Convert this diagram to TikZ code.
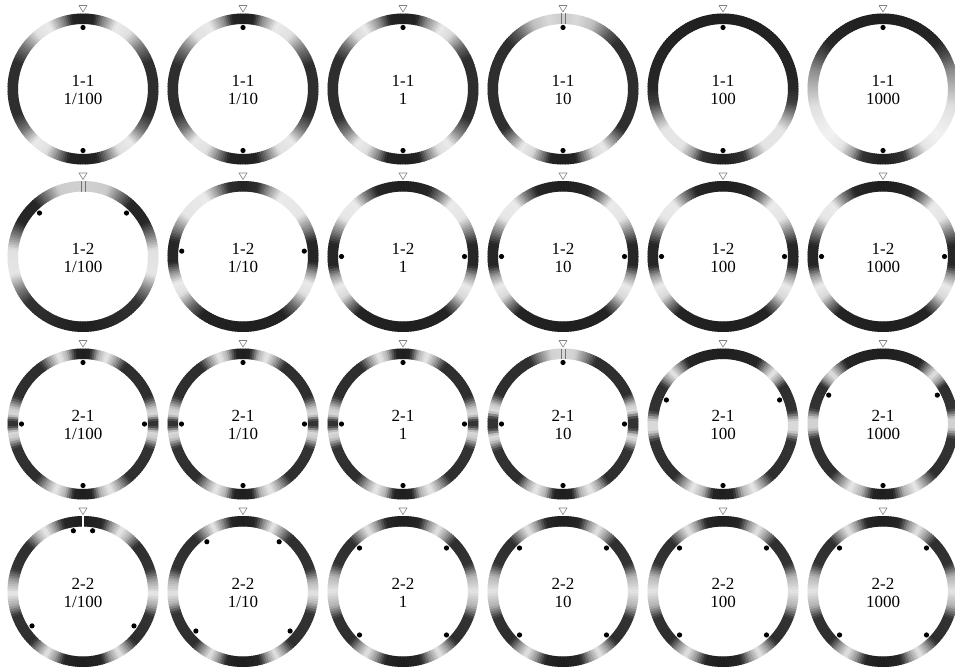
\documentclass[tikz,border=0pt]{standalone}
\usepackage{fontspec}
\setmainfont{Liberation Serif}

% ring shading: angle from the top (clockwise) / darkness in percent, mirrored left-right
% and the load dots as polar angles
\newcommand\ringdata[3]{%
  \expandafter\def\csname prof#1\endcsname{#2}%
  \expandafter\def\csname dots#1\endcsname{#3}}

\ringdata{11}{0/88,9/86,16/50,28/8,40/12,55/55,68/82,112/82,125/55,138/8,150/12,160/50,169/86,180/88}{90,270}
\ringdata{12}{0/88,9/86,16/45,28/8,42/12,57/55,70/82,112/82,124/55,137/8,150/12,160/50,169/86,180/88}{90,270}
\ringdata{13}{0/88,11/86,20/45,32/8,42/15,55/60,65/82,115/82,128/50,140/8,150/12,160/50,167/86,180/88}{90,270}
\ringdata{14}{0/20,12/15,25/25,40/65,50/82,125/82,135/45,145/8,155/15,165/60,170/86,180/88}{90,270}
\ringdata{15}{0/88,90/85,102/75,115/35,125/10,145/10,155/40,163/80,180/88}{90,270}
\ringdata{16}{0/88,50/85,62/70,75/45,90/28,105/12,130/5,145/10,155/40,163/80,180/88}{90,270}

\ringdata{21}{0/18,20/20,32/55,42/85,62/85,75/45,85/12,105/10,118/50,130/80,180/88}{45,135}
\ringdata{22}{0/86,12/82,22/40,32/8,55/10,68/50,78/85,95/85,104/40,112/8,122/12,135/60,145/86,180/88}{5,175}
\ringdata{23}{0/88,22/85,32/50,42/8,58/10,70/50,80/85,98/85,106/40,115/8,125/15,135/60,142/86,180/88}{0,180}
\ringdata{24}{0/88,22/85,32/50,42/8,58/10,70/50,80/85,98/85,106/40,115/8,125/15,135/60,142/86,180/88}{0,180}
\ringdata{25}{0/88,23/85,33/50,43/8,58/10,70/50,80/85,98/85,106/40,115/8,125/15,135/60,142/86,180/88}{0,180}
\ringdata{26}{0/88,24/85,34/50,44/8,58/10,70/50,81/85,98/85,106/40,115/8,125/15,135/60,142/86,180/88}{0,180}

\ringdata{31}{0/88,6/86,13/30,20/8,28/40,36/82,68/82,78/20,83/15,88/80,92/80,97/15,102/20,110/80,140/82,150/35,158/8,166/30,173/86,180/88}{0,90,180,270}
\ringdata{32}{0/88,6/86,13/30,20/8,28/40,36/82,68/82,78/20,83/15,88/80,92/80,97/15,102/20,110/80,140/82,150/35,158/8,166/30,173/86,180/88}{0,90,180,270}
\ringdata{33}{0/88,6/86,13/30,20/8,28/40,36/82,68/82,78/20,83/15,88/80,92/80,97/15,102/20,110/80,140/82,150/35,158/8,166/30,173/86,180/88}{0,90,180,270}
\ringdata{34}{0/15,10/18,20/50,28/82,66/82,75/20,80/12,86/80,94/80,100/12,104/20,112/80,142/82,150/35,158/8,166/30,173/86,180/88}{0,90,180,270}
\ringdata{35}{0/88,30/85,38/40,45/8,52/40,58/82,80/80,88/15,96/15,104/80,138/82,148/35,155/8,164/30,172/86,180/88}{23,157,270}
\ringdata{36}{0/88,32/85,40/40,46/10,53/40,58/82,78/80,86/18,94/18,102/80,135/82,146/35,153/8,163/30,172/86,180/88}{28,152,270}

\ringdata{41}{0/88,16/85,24/40,32/8,40/30,50/82,72/80,82/35,92/8,102/35,110/80,135/82,143/40,150/10,158/40,165/85,180/88}{81,99,214,326}
\ringdata{42}{0/88,10/85,18/40,25/8,33/40,42/82,72/80,82/30,92/10,100/30,108/80,138/82,146/40,153/10,160/40,167/85,180/88}{54,126,220,320}
\ringdata{43}{0/88,14/85,22/40,30/10,38/40,46/82,68/80,78/30,90/10,102/30,112/80,134/82,142/40,150/10,158/40,166/85,180/88}{45,135,225,315}
\ringdata{44}{0/88,14/85,22/40,30/10,38/40,46/82,68/80,78/30,90/10,102/30,112/80,134/82,142/40,150/10,158/40,166/85,180/88}{45,135,225,315}
\ringdata{45}{0/88,14/85,22/40,30/10,38/40,46/82,68/80,78/30,90/10,102/30,112/80,134/82,142/40,150/10,158/40,166/85,180/88}{45,135,225,315}
\ringdata{46}{0/88,14/85,22/40,30/10,38/40,46/82,68/80,78/30,90/10,102/30,112/80,134/82,142/40,150/10,158/40,166/85,180/88}{45,135,225,315}

\begin{document}
\begin{tikzpicture}[x=1pt, y=1pt,
    loaddot/.style={fill=black},
    topmark/.style={draw=black!50, fill=white, line width=0.6pt, line join=round},
    seam/.style={draw=black!55, line width=0.6pt},
    caselabel/.style={font=\fontsize{17}{18}\selectfont, align=center}]
  \useasboundingbox (0,0) rectangle (955,-669);
  \foreach \row/\case in {1/1-1, 2/1-2, 3/2-1, 4/2-2} {
    \foreach \col/\ratio in {1/{1/100}, 2/{1/10}, 3/1, 4/10, 5/100, 6/1000} {
      \pgfmathsetmacro\cx{83+160*(\col-1)}
      \pgfmathsetmacro\cy{-89-167.5*(\row-1)}
      \coordinate (ring-\row-\col) at (\cx,\cy);
      \edef\plist{\csname prof\row\col\endcsname}
      \edef\dlist{\csname dots\row\col\endcsname}
      % shaded band, in small sectors
      \foreach \ang/\dk [remember=\ang as \angp (initially 0), remember=\dk as \dkp (initially 0)] in \plist {
        \pgfmathtruncatemacro\n{ceil((\ang-\angp)/2)}
        \ifnum\n>0
          \foreach \k in {1,...,\n} {
            \pgfmathsetmacro\ta{90-\angp-(\k-1)*(\ang-\angp)/\n+0.3}
            \pgfmathsetmacro\tb{90-\angp-\k*(\ang-\angp)/\n-0.3}
            \pgfmathsetmacro\la{180-\ta}
            \pgfmathsetmacro\lb{180-\tb}
            \pgfmathsetmacro\g{\dkp+(\k-0.5)/\n*(\dk-\dkp)}
            \fill[black!\g, shift={(\cx,\cy)}] (\ta:75.5) arc[start angle=\ta, end angle=\tb, radius=75.5]
              -- (\tb:65) arc[start angle=\tb, end angle=\ta, radius=65] -- cycle;
            \fill[black!\g, shift={(\cx,\cy)}] (\la:75.5) arc[start angle=\la, end angle=\lb, radius=75.5]
              -- (\lb:65) arc[start angle=\lb, end angle=\la, radius=65] -- cycle;
          }
        \fi
      }
      % load points
      \foreach \a in \dlist {
        \fill[loaddot] (ring-\row-\col) ++(\a:61.5) circle[radius=2.6];
      }
      \draw[topmark] (\cx,\cy+77) -- (\cx-4,\cy+83.5) -- (\cx+4,\cy+83.5) -- cycle;
      \node[caselabel] (label-\row-\col) at (\cx,\cy-1) {\case\\\ratio};
    }
  }
  % seams at the top of some rings
  \foreach \row/\col in {1/4, 2/1, 3/4} {
    \draw[seam] (ring-\row-\col) ++(-1.8,65) -- ++(0,10.5);
    \draw[seam] (ring-\row-\col) ++(1.8,65) -- ++(0,10.5);
  }
  \draw[white, line width=1.2pt] (ring-4-1) ++(0,65) -- ++(0,10.5);
\end{tikzpicture}
\end{document}
